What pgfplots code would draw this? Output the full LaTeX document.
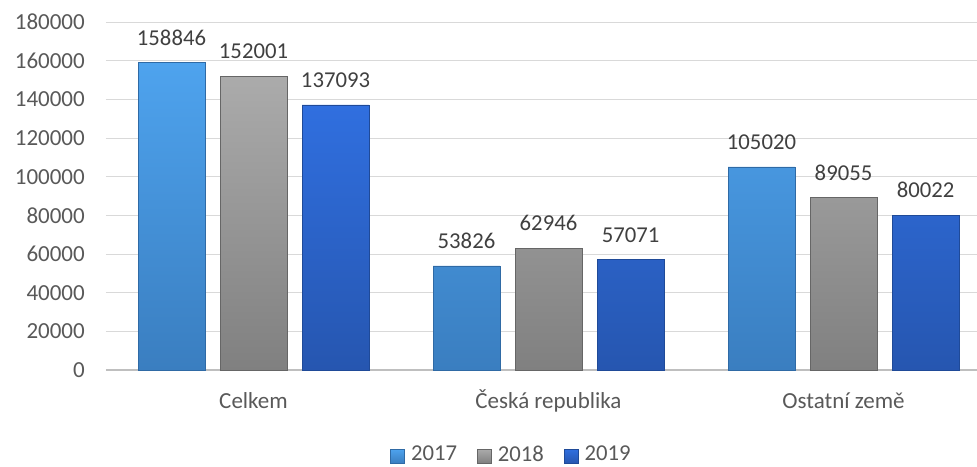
\documentclass[border=0pt]{standalone}
\usepackage{fontspec}
\setmainfont{Carlito}
\usepackage{pgfplots}
\pgfplotsset{compat=1.18}
\definecolor{gridc}{HTML}{D9D9D9}
\definecolor{axc}{HTML}{BFBFBF}
\definecolor{tickc}{HTML}{595959}
\definecolor{labc}{HTML}{404040}
\definecolor{aTop}{HTML}{4EA3EE}
\definecolor{aBot}{HTML}{3A7EC0}
\definecolor{aEdge}{HTML}{2F6AA5}
\definecolor{bTop}{HTML}{ABABAB}
\definecolor{bBot}{HTML}{808080}
\definecolor{bEdge}{HTML}{666666}
\definecolor{cTop}{HTML}{306FDF}
\definecolor{cBot}{HTML}{2656B0}
\definecolor{cEdge}{HTML}{1F4A98}
\begin{document}
\begin{tikzpicture}[x=1pt,y=1pt]
\useasboundingbox (-106,-96) rectangle (871,370);
\begin{axis}[
  scale only axis,
  width=885pt, height=348pt,
  xmin=-0.5, xmax=2.5,
  ymin=0, ymax=180000,
  ytick={0,20000,...,180000},
  xtick={0,1,2},
  xticklabels={Celkem,Česká republika,Ostatní země},
  axis x line*=bottom,
  axis y line*=left,
  x axis line style={draw=axc, line width=1.3pt},
  y axis line style={draw=none},
  ymajorgrids,
  grid style={draw=gridc, line width=1pt},
  major tick length=0pt,
  tick style={draw=none},
  scaled y ticks=false,
  /pgf/number format/fixed,
  /pgf/number format/precision=0,
  /pgf/number format/1000 sep={},
  /pgf/number format/assume math mode=true,
  every tick label/.append style={font=\fontsize{23}{27}\selectfont, text=tickc},
  yticklabel style={anchor=east, inner sep=0pt, xshift=-21pt},
  xticklabel style={anchor=base, inner sep=0pt, yshift=-38pt},
  ybar, bar width=0.227,
  nodes near coords,
  nodes near coords style={font=\fontsize{22.7}{26}\selectfont, text=labc, anchor=base, inner sep=0pt, yshift=17.5pt},
  legend columns=3,
  legend style={at={(0.457,-0.243)}, anchor=center, draw=none, fill=none,
    font=\fontsize{22.7}{26}\selectfont, text=tickc,
    nodes={inner sep=0pt},
    /tikz/every odd column/.style={column sep=6pt},
    /tikz/every even column/.style={column sep=20pt}},
  legend image code/.code={\draw[#1] (0pt,-9pt) rectangle (14pt,5pt);},
  clip=false,
]
\addplot[bar shift=-0.278, top color=aTop, bottom color=aBot, draw=aEdge, line width=0.8pt]
  coordinates {(0,158846) (1,53826) (2,105020)};
\addplot[bar shift=0, top color=bTop, bottom color=bBot, draw=bEdge, line width=0.8pt]
  coordinates {(0,152001) (1,62946) (2,89055)};
\addplot[bar shift=0.278, top color=cTop, bottom color=cBot, draw=cEdge, line width=0.8pt]
  coordinates {(0,137093) (1,57071) (2,80022)};
\legend{2017,2018,2019}
\end{axis}
\end{tikzpicture}
\end{document}
